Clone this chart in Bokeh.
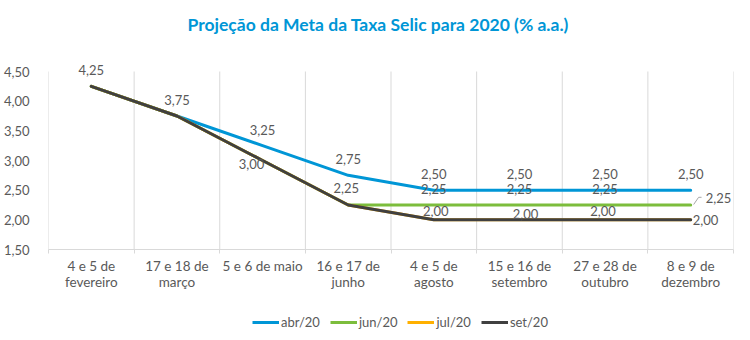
from bokeh.plotting import figure
from bokeh.layouts import column
from bokeh.models import (ColumnDataSource, FixedTicker, LinearAxis, Range1d, Legend,
                          LegendItem, LabelSet)
from bokeh.core.properties import value
from bokeh.embed import file_html
from bokeh.resources import INLINE

# ---------------- data ----------------
categories = ["4 e 5 de\nfevereiro", "17 e 18 de\nmarço", "5 e 6 de maio", "16 e 17 de\njunho",
              "4 e 5 de\nagosto", "15 e 16 de\nsetembro", "27 e 28 de\noutubro", "8 e 9 de\ndezembro"]
series_names = ["abr/20", "jun/20", "jul/20", "set/20"]
abr20 = [4.25, 3.75, 3.25, 2.75, 2.50, 2.50, 2.50, 2.50]
jun20 = [4.25, 3.75, 3.00, 2.25, 2.25, 2.25, 2.25, 2.25]
jul20 = [4.25, 3.75, 3.00, 2.25, 2.00, 2.00, 2.00, 2.00]
set20 = [4.25, 3.75, 3.00, 2.25, 2.00, 2.00, 2.00, 2.00]
y_ticks = [1.5, 2.0, 2.5, 3.0, 3.5, 4.0, 4.5]
y_tick_labels = ["1,50", "2,00", "2,50", "3,00", "3,50", "4,00", "4,50"]
title_text = "Projeção da Meta da Taxa Selic para 2020 (% a.a.)"

# ---------------- styling ----------------
FONT = "Lato"
GRAY_TXT = "#595959"
GRID = "#d9d9d9"
TITLE_COLOR = "#0096d6"
colors = ["#0096d6", "#7cbd3c", "#ffb000", "#404040"]

n = len(categories)
xs = [i + 0.5 for i in range(n)]
bounds = list(range(n + 1))

W = 750
TITLE_H = 40
LEGEND_H = 30
MAIN_H = 340 - TITLE_H - LEGEND_H

# ---------------- title strip ----------------
tt = figure(width=W, height=TITLE_H, output_backend="svg", toolbar_location=None,
            x_range=Range1d(0, W), y_range=Range1d(0, TITLE_H),
            x_axis_type=None, y_axis_type=None,
            min_border_left=0, min_border_right=0, min_border_top=0, min_border_bottom=0)
tt.outline_line_color = None
tt.xgrid.visible = False
tt.ygrid.visible = False
tt.text(x=[361], y=[TITLE_H - 24], text=[title_text], text_align="center", text_baseline="middle",
        text_font=value(FONT), text_font_size="17.5px", text_font_style="bold",
        text_color=TITLE_COLOR)

# ---------------- main chart ----------------
# frame: 692 px wide, 178 px for the 1.50..4.50 span, plus head-room on top for labels
pxy = 178.0 / (y_ticks[-1] - y_ticks[0])
pxx = 692.0 / n
headroom = 16
y_top = y_ticks[-1] + headroom / pxy

p = figure(width=W, height=MAIN_H, output_backend="svg", toolbar_location=None,
           x_range=Range1d(0, n), y_range=Range1d(y_ticks[0], y_top),
           x_axis_type=None, y_axis_type=None,
           min_border_left=41, min_border_right=17, min_border_top=71 - headroom - TITLE_H,
           min_border_bottom=MAIN_H - (249 - TITLE_H))
p.outline_line_color = None
p.background_fill_color = "white"
p.border_fill_color = "white"
p.xgrid.visible = False
p.ygrid.visible = False

# vertical grid lines at category boundaries (only over the 1,50..4,50 span)
p.segment(x0=bounds, y0=[y_ticks[0]] * len(bounds), x1=bounds, y1=[y_ticks[-1]] * len(bounds),
          line_color=GRID, line_width=1)

# y axis
yaxis = LinearAxis(ticker=FixedTicker(ticks=y_ticks),
                   major_label_overrides=dict(zip(y_ticks, y_tick_labels)),
                   axis_line_color=None, major_tick_line_color=None, minor_tick_line_color=None,
                   major_label_standoff=13, major_label_text_font=FONT,
                   major_label_text_font_size="13px", major_label_text_color=GRAY_TXT)
p.add_layout(yaxis, "left")

# x axis: labels at centres, small ticks at category boundaries (as minor ticks)
xlab_axis = LinearAxis(ticker=FixedTicker(ticks=xs, minor_ticks=bounds),
                       major_label_overrides=dict(zip(xs, categories)),
                       axis_line_color=GRID, major_tick_line_color=None,
                       minor_tick_line_color=GRID, minor_tick_out=4, minor_tick_in=0,
                       major_label_standoff=2, major_label_text_font=FONT,
                       major_label_text_font_size="13.5px", major_label_text_color=GRAY_TXT,
                       major_label_text_line_height=1.02)
p.add_layout(xlab_axis, "below")

# lines
for name, vals, col in zip(series_names, [abr20, jun20, jul20, set20], colors):
    p.line(xs, vals, line_color=col, line_width=3, line_join="round", line_cap="round")

# leader line for the last green label (screen-px offsets converted to data units)
lead = [(3, 0.5), (8, 7.7), (11, 7.7)]
p.line([xs[-1] + dx / pxx for dx, dy in lead], [jun20[-1] + dy / pxy for dx, dy in lead],
       line_color="#a6a6a6", line_width=1)

# data labels
def fmt(v):
    return f"{v:.2f}".replace(".", ",")

c_lab = dict(x=[], y=[], text=[], dx=[], dy=[])
l_lab = dict(x=[], y=[], text=[], dx=[], dy=[])

def add(d, i, v, dx, dy):
    d["x"].append(xs[i]); d["y"].append(v); d["text"].append(fmt(v))
    d["dx"].append(dx); d["dy"].append(dy)

set_offsets = {2: (-11, -3), 3: (-2, 17), 4: (2, 9), 5: (6, 6), 6: (-2, 9)}
for i, v in enumerate(set20):
    if i == n - 1:
        add(l_lab, i, v, 2, 0)
    else:
        dx, dy = set_offsets.get(i, (0, 16))
        add(c_lab, i, v, dx, dy)
for i, v in enumerate(abr20):
    if i >= 2:
        add(c_lab, i, v, 0, 16)
for i, v in enumerate(jun20):
    if 4 <= i < n - 1:
        add(c_lab, i, v, 0, 16)
    elif i == n - 1:
        add(l_lab, i, v, 15, 7)

for d, align in [(c_lab, "center"), (l_lab, "left")]:
    ls = LabelSet(x="x", y="y", text="text", x_offset="dx", y_offset="dy",
                  source=ColumnDataSource(d), text_align=align, text_baseline="middle",
                  text_font=value(FONT), text_font_size="13px", text_color=GRAY_TXT)
    p.add_layout(ls)

# ---------------- legend strip ----------------
lg = figure(width=W, height=LEGEND_H, output_backend="svg", toolbar_location=None,
            x_range=Range1d(0, 1), y_range=Range1d(0, 1),
            x_axis_type=None, y_axis_type=None,
            min_border_left=0, min_border_right=0, min_border_top=0, min_border_bottom=0)
lg.outline_line_color = None
lg.xgrid.visible = False
lg.ygrid.visible = False
lg_items = []
for name, col in zip(series_names, colors):
    r = lg.line([float("nan")], [float("nan")], line_color=col, line_width=3)
    lg_items.append(LegendItem(label=name, renderers=[r]))
legend = Legend(items=lg_items, orientation="horizontal", location=(204, 10),
                glyph_width=27, glyph_height=16, label_standoff=2, spacing=10,
                label_text_font=FONT, label_text_font_size="13px", label_text_color=GRAY_TXT,
                label_height=16, padding=0, margin=0,
                border_line_color=None, background_fill_alpha=0)
lg.add_layout(legend)

layout = column(tt, p, lg, spacing=0)
open("out.html", "w").write(file_html(layout, INLINE))
